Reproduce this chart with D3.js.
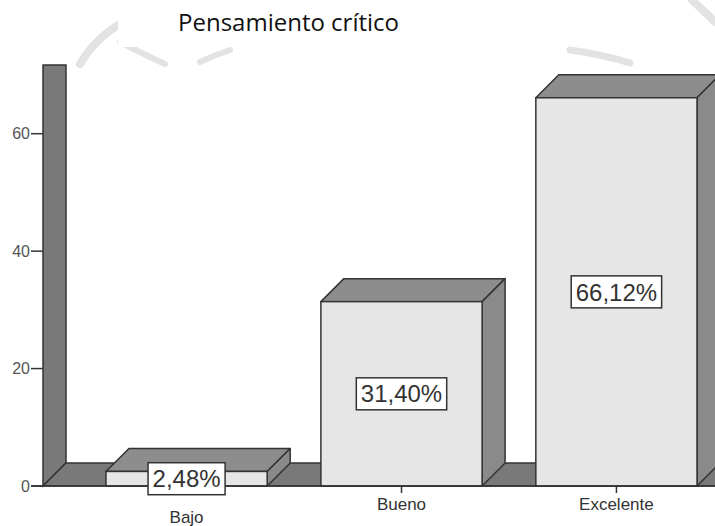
<!DOCTYPE html>
<html>
<head>
<meta charset="utf-8">
<script src="https://cdn.jsdelivr.net/npm/d3@7"></script>
<style>
  body { margin: 0; background: #fff; }
  svg { display: block; }
</style>
</head>
<body>
<div id="chart"></div>
<script>
// data
const categories = ["Bajo", "Bueno", "Excelente"];
const percents = [2.48, 31.40, 66.12];
const yTicks = [0, 20, 40, 60];
const title = "Pensamiento crítico";

const width = 715, height = 526;
const depth = 23;
const base = 486, top0 = 65;

const svg = d3.select("#chart").append("svg")
  .attr("width", width)
  .attr("height", height);

// faint watermark behind the title
const wm = svg.append("g")
  .attr("fill", "none")
  .attr("stroke", "#e3e3e3")
  .attr("stroke-linecap", "round");
wm.append("path").attr("d", "M80,64 Q100,30 140,14").attr("stroke-width", 8);
wm.append("path").attr("d", "M120,42 Q145,55 165,64").attr("stroke-width", 6);
wm.append("path").attr("d", "M200,62 Q215,55 230,50").attr("stroke-width", 6);
wm.append("path").attr("d", "M570,50 Q605,55 630,63").attr("stroke-width", 7);
wm.append("path").attr("d", "M692,0 Q705,12 715,22").attr("stroke-width", 8);
svg.append("rect").attr("x", 118).attr("y", 0).attr("width", 345).attr("height", 47).attr("fill", "#fff");

svg.append("text")
  .attr("x", 178)
  .attr("y", 31)
  .attr("font-family", "'Open Sans', 'Noto Sans', sans-serif")
  .attr("font-size", 24)
  .attr("fill", "#111")
  .text(title);

// scales
const x = d3.scaleBand()
  .domain(categories)
  .range([43, 760])
  .paddingInner(0.25)
  .paddingOuter(0.293);

const y = d3.scaleLinear()
  .domain([0, 71.7])
  .range([base, top0]);

const plot = svg.append("g");
const stroke = "#333";

// left wall and floor
plot.append("path")
  .attr("d", `M43,${top0} L${43 + depth},${top0} L${43 + depth},${base - depth} L43,${base} Z`)
  .attr("fill", "#797979")
  .attr("stroke", stroke)
  .attr("stroke-width", 1.5);
plot.append("path")
  .attr("d", `M43,${base} L${43 + depth},${base - depth} L${width + 40},${base - depth} L${width + 40},${base} Z`)
  .attr("fill", "#797979")
  .attr("stroke", stroke)
  .attr("stroke-width", 1.5);

// bars
const bars = plot.selectAll("g.bar")
  .data(categories.map((c, i) => ({ cat: c, v: percents[i] })))
  .join("g")
  .attr("class", "bar");

bars.append("path") // top
  .attr("d", d => {
    const x0 = x(d.cat), x1 = x0 + x.bandwidth(), yt = y(d.v);
    return `M${x0},${yt} L${x0 + depth},${yt - depth} L${x1 + depth},${yt - depth} L${x1},${yt} Z`;
  })
  .attr("fill", "#8d8d8d")
  .attr("stroke", stroke)
  .attr("stroke-width", 1.5)
  .attr("stroke-linejoin", "round");

bars.append("path") // side
  .attr("d", d => {
    const x1 = x(d.cat) + x.bandwidth(), yt = y(d.v);
    return `M${x1},${yt} L${x1 + depth},${yt - depth} L${x1 + depth},${base - depth} L${x1},${base} Z`;
  })
  .attr("fill", "#8a8a8a")
  .attr("stroke", stroke)
  .attr("stroke-width", 1.5)
  .attr("stroke-linejoin", "round");

bars.append("rect") // front
  .attr("x", d => x(d.cat))
  .attr("y", d => y(d.v))
  .attr("width", x.bandwidth())
  .attr("height", d => base - y(d.v))
  .attr("fill", "#e6e6e6")
  .attr("stroke", stroke)
  .attr("stroke-width", 1.5);

// baseline
plot.append("line")
  .attr("x1", 31).attr("x2", width)
  .attr("y1", base).attr("y2", base)
  .attr("stroke", stroke)
  .attr("stroke-width", 1.5);

// y ticks
const yAxis = svg.append("g");
yAxis.selectAll("line")
  .data(yTicks)
  .join("line")
  .attr("x1", 31).attr("x2", 43)
  .attr("y1", d => y(d)).attr("y2", d => y(d))
  .attr("stroke", stroke)
  .attr("stroke-width", 1.5);
yAxis.selectAll("text")
  .data(yTicks)
  .join("text")
  .attr("x", 30)
  .attr("y", d => y(d))
  .attr("dy", "0.35em")
  .attr("text-anchor", "end")
  .attr("font-family", "Arial, 'Liberation Sans', sans-serif")
  .attr("font-size", 16)
  .attr("fill", "#555")
  .text(d => d);

// x ticks and labels
const xAxis = svg.append("g");
xAxis.selectAll("line")
  .data(categories)
  .join("line")
  .attr("x1", d => x(d) + x.bandwidth() / 2)
  .attr("x2", d => x(d) + x.bandwidth() / 2)
  .attr("y1", base).attr("y2", base + 7)
  .attr("stroke", stroke)
  .attr("stroke-width", 1.5);
xAxis.selectAll("text")
  .data(categories)
  .join("text")
  .attr("x", d => x(d) + x.bandwidth() / 2)
  .attr("y", (d, i) => i === 0 ? 523 : 510)
  .attr("text-anchor", "middle")
  .attr("font-family", "Arial, 'Liberation Sans', sans-serif")
  .attr("font-size", 17)
  .attr("fill", "#333")
  .text(d => d);

// value labels in boxes
const labels = svg.selectAll("g.vlabel")
  .data(categories.map((c, i) => ({ cat: c, v: percents[i] })))
  .join("g")
  .attr("class", "vlabel")
  .attr("transform", d => `translate(${x(d.cat) + x.bandwidth() / 2},${(y(d.v) + base) / 2})`);

labels.append("rect")
  .attr("fill", "#fff")
  .attr("stroke", stroke)
  .attr("stroke-width", 1.5);

const txt = labels.append("text")
  .attr("text-anchor", "middle")
  .attr("dy", "0.36em")
  .attr("font-family", "Arial, 'Liberation Sans', sans-serif")
  .attr("font-size", 24)
  .attr("fill", "#333")
  .text(d => d3.format(".2f")(d.v).replace(".", ",") + "%");

txt.each(function (d) {
  const w = this.getComputedTextLength() + 9;
  d3.select(this.parentNode).select("rect")
    .attr("x", -w / 2).attr("y", -16)
    .attr("width", w).attr("height", 32);
});
</script>
</body>
</html>
